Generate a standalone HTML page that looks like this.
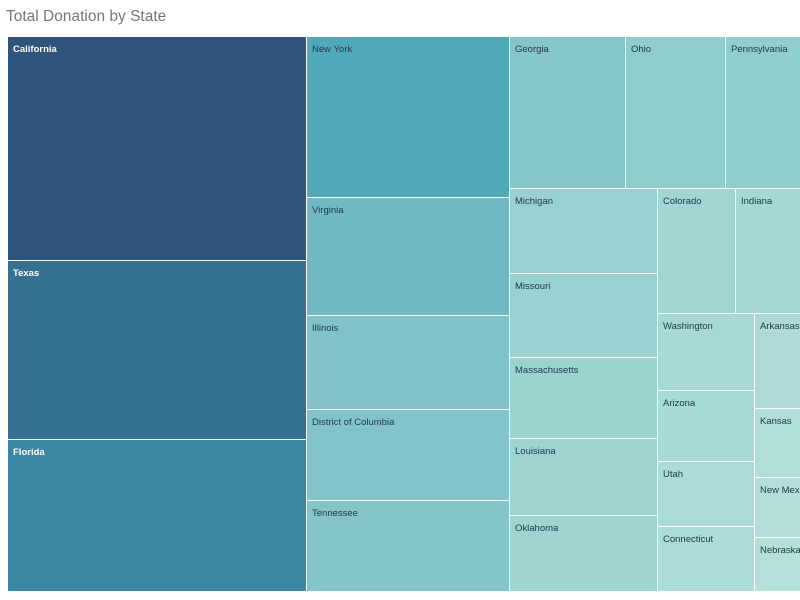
<!DOCTYPE html>
<html><head><style>
body{margin:0;width:800px;height:600px;background:#fff;position:relative;overflow:hidden;font-family:"Liberation Sans",sans-serif}
.t{position:absolute;left:6px;top:8px;font-size:15.5px;color:#777}
.r{position:absolute;box-sizing:border-box;border-right:1px solid #fff;border-bottom:1px solid #fff;font-size:9.5px;color:#233b48;padding:7px 0 0 5px;white-space:nowrap;overflow:hidden}
.w{color:#fff;font-weight:bold}
</style></head><body>
<div class="t">Total Donation by State</div>
<div class="r w" style="left:8px;top:37px;width:299px;height:224px;background:#2f547e">California</div>
<div class="r w" style="left:8px;top:261px;width:299px;height:179px;background:#367190">Texas</div>
<div class="r w" style="left:8px;top:440px;width:299px;height:152px;background:#3a88a4">Florida</div>
<div class="r" style="left:307px;top:37px;width:203px;height:161px;background:#50a9b9">New York</div>
<div class="r" style="left:307px;top:198px;width:203px;height:118px;background:#70b9c2">Virginia</div>
<div class="r" style="left:307px;top:316px;width:203px;height:94px;background:#7fc2c7">Illinois</div>
<div class="r" style="left:307px;top:410px;width:203px;height:91px;background:#82c4c9">District of Columbia</div>
<div class="r" style="left:307px;top:501px;width:203px;height:91px;background:#83c5c9">Tennessee</div>
<div class="r" style="left:510px;top:37px;width:116px;height:152px;background:#85c6ca">Georgia</div>
<div class="r" style="left:626px;top:37px;width:100px;height:152px;background:#8fcccc">Ohio</div>
<div class="r" style="left:726px;top:37px;width:75px;height:152px;background:#90cdcd">Pennsylvania</div>
<div class="r" style="left:510px;top:189px;width:148px;height:85px;background:#98d1d0">Michigan</div>
<div class="r" style="left:510px;top:274px;width:148px;height:84px;background:#99d2d1">Missouri</div>
<div class="r" style="left:510px;top:358px;width:148px;height:81px;background:#9bd3d1">Massachusetts</div>
<div class="r" style="left:510px;top:439px;width:148px;height:77px;background:#9dd4d2">Louisiana</div>
<div class="r" style="left:510px;top:516px;width:148px;height:76px;background:#9ed5d2">Oklahoma</div>
<div class="r" style="left:658px;top:189px;width:78px;height:125px;background:#a0d6d3">Colorado</div>
<div class="r" style="left:736px;top:189px;width:65px;height:125px;background:#a3d8d4">Indiana</div>
<div class="r" style="left:658px;top:314px;width:97px;height:77px;background:#a6d9d5">Washington</div>
<div class="r" style="left:658px;top:391px;width:97px;height:71px;background:#a8dad6">Arizona</div>
<div class="r" style="left:658px;top:462px;width:97px;height:65px;background:#abdbd7">Utah</div>
<div class="r" style="left:658px;top:527px;width:97px;height:65px;background:#acdcd7">Connecticut</div>
<div class="r" style="left:755px;top:314px;width:46px;height:95px;background:#add9d6">Arkansas</div>
<div class="r" style="left:755px;top:409px;width:46px;height:69px;background:#b0ded8">Kansas</div>
<div class="r" style="left:755px;top:478px;width:46px;height:60px;background:#b2dfd9">New Mexico</div>
<div class="r" style="left:755px;top:538px;width:46px;height:54px;background:#b4e0da">Nebraska</div>
</body></html>
